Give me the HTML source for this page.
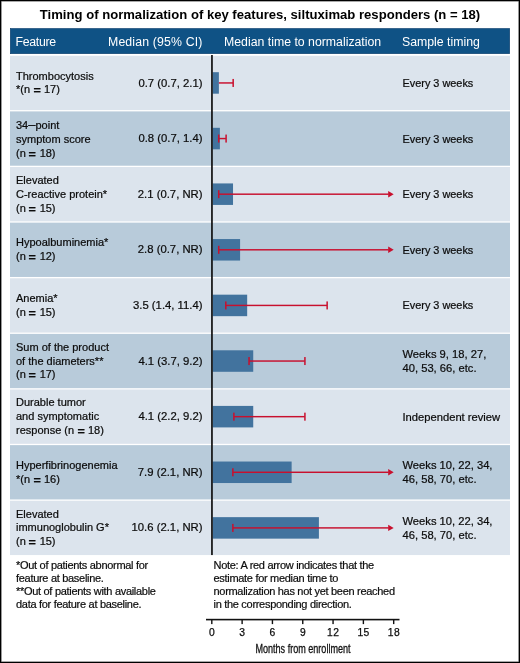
<!DOCTYPE html>
<html><head><meta charset="utf-8"><style>
*{margin:0;padding:0;box-sizing:border-box}
html,body{width:520px;height:663px;overflow:hidden;background:#fff}
body{position:relative;will-change:transform;font-family:"Liberation Sans",sans-serif;color:#111}
.a{position:absolute}
.frame{position:absolute;left:0;top:0;width:520px;height:663px;border:1px solid #000;box-shadow:inset 0 0 0 0.6px #555}
.title{left:0;top:6.5px;width:520px;text-align:center;font-weight:bold;font-size:13.1px;line-height:15px;color:#000;white-space:nowrap}
.ht{font-size:12.3px;line-height:14px;color:#fff;white-space:nowrap;top:35px}
.t{font-size:11px;line-height:13.85px;white-space:nowrap;color:#0c0c0c;-webkit-text-stroke:0.22px #0c0c0c}
.m{font-size:11.3px;line-height:13.7px;white-space:nowrap;color:#0c0c0c;-webkit-text-stroke:0.22px #0c0c0c}
.fn{font-size:11px;letter-spacing:-0.3px;line-height:13px;white-space:nowrap;color:#0c0c0c;-webkit-text-stroke:0.2px #0c0c0c}
.tk{font-size:10.3px;line-height:12px;white-space:nowrap;color:#0c0c0c;-webkit-text-stroke:0.25px #0c0c0c;letter-spacing:0.4px;text-indent:0.4px;text-align:center;width:30px}
.eq{display:inline-block;font-weight:bold;margin:0 0.8px 0 0.5px;transform:translateY(0.7px) scaleX(1.15)}
.dash{font-size:13px}
</style></head><body>
<div class="a title">Timing of normalization of key features, siltuximab responders (n = 18)</div>
<svg class="a" style="left:0;top:0" width="520" height="663" viewBox="0 0 520 663"><rect x="10.3" y="28.5" width="499.4" height="25.2" fill="#0f5285" stroke="#0a3c6b" stroke-width="0.6"/><rect x="10" y="55.78" width="500" height="54.32" fill="#dce4ed"/><rect x="212.6" y="72.19" width="6.27" height="21.5" fill="#42739e"/><rect x="218.87" y="82.22" width="14.15" height="1.45" fill="#c8102e"/><rect x="232.42" y="78.94" width="1.5" height="8" fill="#c8102e"/><rect x="10" y="111.40" width="500" height="54.32" fill="#b8cbda"/><rect x="212.6" y="127.81" width="7.28" height="21.5" fill="#42739e"/><rect x="218.87" y="137.84" width="7.07" height="1.45" fill="#c8102e"/><rect x="225.35" y="134.56" width="1.5" height="8" fill="#c8102e"/><rect x="217.97" y="134.56" width="1.5" height="8" fill="#c8102e"/><rect x="10" y="167.02" width="500" height="54.32" fill="#dce4ed"/><rect x="212.6" y="183.43" width="20.42" height="21.5" fill="#42739e"/><rect x="218.87" y="193.46" width="169.82" height="1.45" fill="#c8102e"/><path d="M388.19 190.98 L393.69 194.18 L388.19 197.38Z" fill="#c8102e"/><rect x="217.97" y="190.18" width="1.5" height="8" fill="#c8102e"/><rect x="10" y="222.64" width="500" height="54.32" fill="#b8cbda"/><rect x="212.6" y="239.05" width="27.49" height="21.5" fill="#42739e"/><rect x="218.87" y="249.08" width="169.82" height="1.45" fill="#c8102e"/><path d="M388.19 246.60 L393.69 249.80 L388.19 253.00Z" fill="#c8102e"/><rect x="217.97" y="245.80" width="1.5" height="8" fill="#c8102e"/><rect x="10" y="278.26" width="500" height="54.32" fill="#dce4ed"/><rect x="212.6" y="294.67" width="34.57" height="21.5" fill="#42739e"/><rect x="225.95" y="304.70" width="101.05" height="1.45" fill="#c8102e"/><rect x="326.40" y="301.42" width="1.5" height="8" fill="#c8102e"/><rect x="225.05" y="301.42" width="1.5" height="8" fill="#c8102e"/><rect x="10" y="333.88" width="500" height="54.32" fill="#b8cbda"/><rect x="212.6" y="350.29" width="40.63" height="21.5" fill="#42739e"/><rect x="249.19" y="360.32" width="55.58" height="1.45" fill="#c8102e"/><rect x="304.17" y="357.04" width="1.5" height="8" fill="#c8102e"/><rect x="248.29" y="357.04" width="1.5" height="8" fill="#c8102e"/><rect x="10" y="389.50" width="500" height="54.32" fill="#dce4ed"/><rect x="212.6" y="405.91" width="40.63" height="21.5" fill="#42739e"/><rect x="234.03" y="415.94" width="70.74" height="1.45" fill="#c8102e"/><rect x="304.17" y="412.66" width="1.5" height="8" fill="#c8102e"/><rect x="233.13" y="412.66" width="1.5" height="8" fill="#c8102e"/><rect x="10" y="445.12" width="500" height="54.32" fill="#b8cbda"/><rect x="212.6" y="461.53" width="79.03" height="21.5" fill="#42739e"/><rect x="233.02" y="471.56" width="155.67" height="1.45" fill="#c8102e"/><path d="M388.19 469.08 L393.69 472.28 L388.19 475.48Z" fill="#c8102e"/><rect x="232.12" y="468.28" width="1.5" height="8" fill="#c8102e"/><rect x="10" y="500.74" width="500" height="54.32" fill="#dce4ed"/><rect x="212.6" y="517.15" width="106.31" height="21.5" fill="#42739e"/><rect x="233.02" y="527.18" width="155.67" height="1.45" fill="#c8102e"/><path d="M388.19 524.70 L393.69 527.90 L388.19 531.10Z" fill="#c8102e"/><rect x="232.12" y="523.90" width="1.5" height="8" fill="#c8102e"/><rect x="211.1" y="55" width="1.7" height="500.06" fill="#111"/><rect x="206" y="618.80" width="193.5" height="1.6" fill="#111"/><rect x="211.10" y="619.60" width="1.4" height="4.5" fill="#111"/><rect x="241.42" y="619.60" width="1.4" height="4.5" fill="#111"/><rect x="271.73" y="619.60" width="1.4" height="4.5" fill="#111"/><rect x="302.05" y="619.60" width="1.4" height="4.5" fill="#111"/><rect x="332.36" y="619.60" width="1.4" height="4.5" fill="#111"/><rect x="362.68" y="619.60" width="1.4" height="4.5" fill="#111"/><rect x="392.99" y="619.60" width="1.4" height="4.5" fill="#111"/></svg>
<div class="a ht" style="left:15.5px;letter-spacing:-0.28px">Feature</div>
<div class="a ht" style="right:317.5px;letter-spacing:0.15px">Median (95% CI)</div>
<div class="a ht" style="left:224px">Median time to normalization</div>
<div class="a ht" style="left:402px">Sample timing</div>
<div class="a t" style="left:16px;top:69.59px">Thrombocytosis<br>*(n <span class="eq">=</span> 17)</div>
<div class="a m" style="right:317.5px;top:76.52px">0.7 (0.7, 2.1)</div>
<div class="a t" style="left:402.5px;top:76.92px;font-size:10.9px;line-height:13.9px">Every 3 weeks</div>
<div class="a t" style="left:16px;top:118.28px">34<span class="dash">–</span>point<br>symptom score<br>(n <span class="eq">=</span> 18)</div>
<div class="a m" style="right:317.5px;top:132.13px">0.8 (0.7, 1.4)</div>
<div class="a t" style="left:402.5px;top:132.53px;font-size:10.9px;line-height:13.9px">Every 3 weeks</div>
<div class="a t" style="left:16px;top:173.91px">Elevated<br>C-reactive protein*<br>(n <span class="eq">=</span> 15)</div>
<div class="a m" style="right:317.5px;top:187.75px">2.1 (0.7, NR)</div>
<div class="a t" style="left:402.5px;top:188.16px;font-size:10.9px;line-height:13.9px">Every 3 weeks</div>
<div class="a t" style="left:16px;top:236.45px">Hypoalbuminemia*<br>(n <span class="eq">=</span> 12)</div>
<div class="a m" style="right:317.5px;top:243.37px">2.8 (0.7, NR)</div>
<div class="a t" style="left:402.5px;top:243.77px;font-size:10.9px;line-height:13.9px">Every 3 weeks</div>
<div class="a t" style="left:16px;top:292.07px">Anemia*<br>(n <span class="eq">=</span> 15)</div>
<div class="a m" style="right:317.5px;top:299.00px">3.5 (1.4, 11.4)</div>
<div class="a t" style="left:402.5px;top:299.39px;font-size:10.9px;line-height:13.9px">Every 3 weeks</div>
<div class="a t" style="left:16px;top:340.76px">Sum of the product<br>of the diameters**<br>(n <span class="eq">=</span> 17)</div>
<div class="a m" style="right:317.5px;top:354.61px">4.1 (3.7, 9.2)</div>
<div class="a t" style="left:402.5px;top:348.09px;font-size:11.2px;line-height:13.9px">Weeks 9, 18, 27,<br>40, 53, 66, etc.</div>
<div class="a t" style="left:16px;top:396.38px">Durable tumor<br>and symptomatic<br>response (n <span class="eq">=</span> 18)</div>
<div class="a m" style="right:317.5px;top:410.23px">4.1 (2.2, 9.2)</div>
<div class="a t" style="left:402.5px;top:410.63px;font-size:11.2px;line-height:13.9px">Independent review</div>
<div class="a t" style="left:16px;top:458.93px">Hyperfibrinogenemia<br>*(n <span class="eq">=</span> 16)</div>
<div class="a m" style="right:317.5px;top:465.85px">7.9 (2.1, NR)</div>
<div class="a t" style="left:402.5px;top:459.33px;font-size:11.2px;line-height:13.9px">Weeks 10, 22, 34,<br>46, 58, 70, etc.</div>
<div class="a t" style="left:16px;top:507.62px">Elevated<br>immunoglobulin G*<br>(n <span class="eq">=</span> 15)</div>
<div class="a m" style="right:317.5px;top:521.48px">10.6 (2.1, NR)</div>
<div class="a t" style="left:402.5px;top:514.95px;font-size:11.2px;line-height:13.9px">Weeks 10, 22, 34,<br>46, 58, 70, etc.</div>
<div class="a tk" style="left:196.80px;top:627.3px">0</div>
<div class="a tk" style="left:227.12px;top:627.3px">3</div>
<div class="a tk" style="left:257.43px;top:627.3px">6</div>
<div class="a tk" style="left:287.75px;top:627.3px">9</div>
<div class="a tk" style="left:318.06px;top:627.3px">12</div>
<div class="a tk" style="left:348.38px;top:627.3px">15</div>
<div class="a tk" style="left:378.69px;top:627.3px">18</div>
<div class="a" style="left:303px;top:642.2px;width:0;"><div style="position:absolute;left:-80px;width:160px;text-align:center;font-size:12px;line-height:14px;transform:scaleX(0.755);white-space:nowrap;color:#111;-webkit-text-stroke:0.3px #111">Months from enrollment</div></div>
<div class="a fn" style="left:16px;top:558.6px">*Out of patients abnormal for<br>feature at baseline.<br>**Out of patients with available<br>data for feature at baseline.</div>
<div class="a fn" style="left:213.5px;top:558.6px">Note: A red arrow indicates that the<br>estimate for median time to<br>normalization has not yet been reached<br>in the corresponding direction.</div>
<div class="frame"></div>
</body></html>
